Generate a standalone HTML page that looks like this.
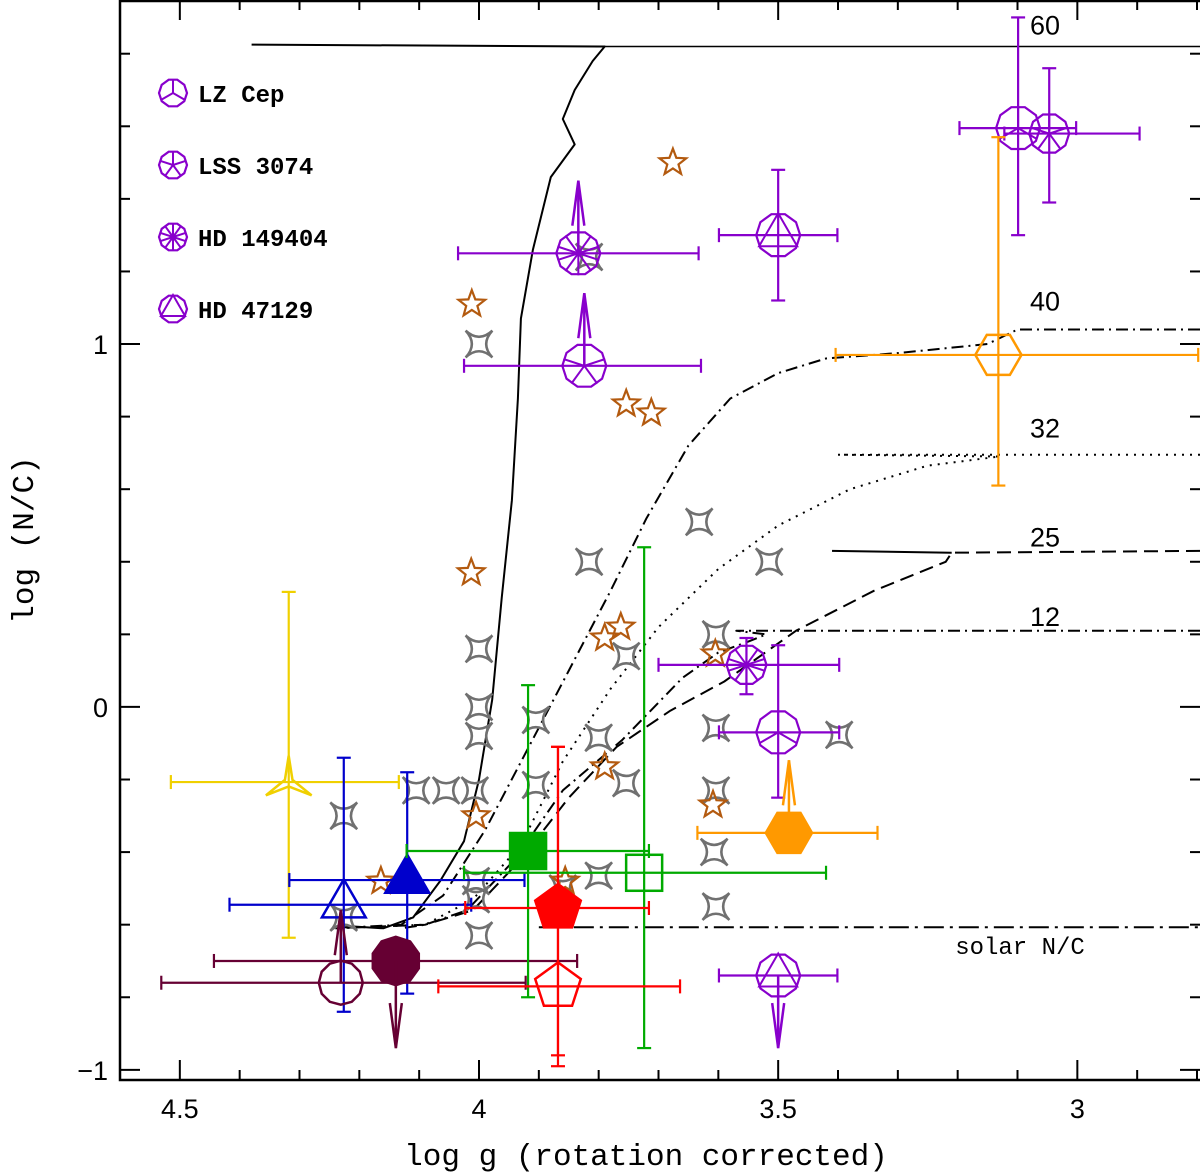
<!DOCTYPE html>
<html><head><meta charset="utf-8"><style>
html,body{margin:0;padding:0;background:#fff}
svg{display:block}
.tk{font-family:"Liberation Sans",sans-serif;font-size:27px}
.ser{font-family:"Liberation Mono",monospace}
</style></head><body>
<svg id="chart" width="1200" height="1176" viewBox="0 0 1200 1176" xmlns="http://www.w3.org/2000/svg">
<g id="plot"></g>
</svg>
<script>
// ---- data ----
const xDomain=[4.6,2.795];
const yDomain=[1.948,-1.028];
const xTicksMajor=[4.5,4,3.5,3];
const xTickLabels=["4.5","4","3.5","3"];
const yTicksMajor=[-1,0,1];
const yTickLabels=["\u22121","0","1"];
const grayX=[4.0,3.816,3.632,3.816,3.515,4.0,3.754,3.604,4.0,4.0,3.905,3.80,3.604,3.398,4.226,4.105,4.055,4.007,3.905,3.754,3.604,3.607,3.80,3.604,4.005,4.005,4.0,4.226,3.86];
const grayY=[1.0,1.24,0.51,0.40,0.40,0.16,0.14,0.20,0.0,-0.08,-0.036,-0.085,-0.058,-0.077,-0.30,-0.23,-0.23,-0.23,-0.215,-0.21,-0.23,-0.40,-0.465,-0.55,-0.48,-0.53,-0.63,-0.58,-0.50];
const brownX=[3.676,4.012,3.754,3.712,4.013,3.79,3.763,3.605,3.79,3.609,4.005,4.164,3.856];
const brownY=[1.50,1.11,0.835,0.81,0.37,0.19,0.22,0.146,-0.165,-0.27,-0.30,-0.48,-0.48];
const ptName=["lzcep-top","lss3074-top","hd47129-top","hd149404-limit","lss-limit","hd149404-mid","lzcep-mid","hd47129-bottom","yellow-tri","blue-open-tri","blue-filled-tri","maroon-open-circle","maroon-filled-oct","green-filled-sq","green-open-sq","red-filled-pent","red-open-pent","orange-filled-hex","orange-open-hex"];
const ptX=[3.099,3.047,3.5,3.834,3.824,3.553,3.5,3.5,4.318,4.226,4.12,4.231,4.139,3.918,3.724,3.868,3.868,3.482,3.132];
const ptY=[1.595,1.58,1.30,1.25,0.94,0.116,-0.07,-0.74,-0.207,-0.545,-0.477,-0.76,-0.70,-0.397,-0.457,-0.554,-0.77,-0.347,0.97];
const ptXlo=[3.197,3.122,3.599,4.035,4.025,3.700,3.599,3.599,4.515,4.417,4.317,4.531,4.443,4.121,4.025,4.023,4.068,3.635,3.404];
const ptXhi=[3.002,2.896,3.401,3.633,3.629,3.398,3.398,3.401,4.134,4.013,3.924,3.922,3.836,3.716,3.420,3.716,3.664,3.334,2.798];
const ptYlo=[1.30,1.39,1.12,null,null,0.035,-0.25,null,-0.636,-0.84,-0.79,null,null,-0.80,-0.94,-0.96,-0.99,null,0.61];
const ptYhi=[1.90,1.76,1.48,null,null,0.19,0.17,null,0.317,-0.14,-0.18,null,null,0.06,0.44,-0.11,-0.11,null,1.57];
const ptArrow=[0,0,0,1,1,0,0,-1,0,0,0,1,-1,0,0,0,0,1,0];
const ptArrowLen=[0,0,0,0.20,0.20,0,0,0.20,0,0,0,0.20,0.24,0,0,0,0,0.20,0];
const ptColor=["#8800cc","#8800cc","#8800cc","#8800cc","#8800cc","#8800cc","#8800cc","#8800cc","#f0d000","#0000cc","#0000cc","#660033","#660033","#00aa00","#00aa00","#ff0000","#ff0000","#ff9900","#ff9900"];
const ptShape=["lzcep","lss","hd47","hd149","lss","hd149","lzcep","hd47","tri3","tri","tri","circ","oct","sq","sq","pent","pent","hex","hex"];
const ptFill=[0,0,0,0,0,0,0,0,0,0,1,0,1,1,0,1,0,1,0];
const ptSize=[22,20,22,22,22,20,22,22,22,22,22,22,22,18,18,24,24,22,22];
const t60x=[4.38,3.8,3.79,3.81,3.84,3.86,3.84,3.88,3.91,3.93,3.935,3.945,3.962,3.978,4.0,4.025,4.065,4.11,4.16,4.21,4.24],
      t60y=[1.825,1.82,1.82,1.78,1.70,1.62,1.55,1.46,1.26,1.07,0.85,0.57,0.30,0.02,-0.20,-0.37,-0.48,-0.58,-0.61,-0.605,-0.61];
const t40x=[2.795,3.1,3.15,3.3,3.42,3.50,3.58,3.65,3.72,3.78,3.85,3.92,3.99,4.06,4.13,4.24],
      t40y=[1.04,1.04,1.0,0.975,0.96,0.92,0.85,0.72,0.52,0.32,0.10,-0.12,-0.34,-0.52,-0.6,-0.61];
const t32x=[2.795,3.4,3.13,3.25,3.38,3.50,3.60,3.70,3.78,3.86,3.93,4.01,4.09,4.24],
      t32y=[0.695,0.695,0.69,0.665,0.60,0.50,0.38,0.22,0.05,-0.15,-0.38,-0.53,-0.60,-0.61];
const t25x=[2.795,3.21,3.22,3.34,3.47,3.59,3.68,3.77,3.85,3.93,4.01,4.09,4.24],
      t25y=[0.43,0.425,0.40,0.32,0.21,0.07,-0.01,-0.11,-0.25,-0.42,-0.56,-0.60,-0.61];
const t12x=[2.795,3.57,3.52,3.55,3.6,3.66,3.76,3.86,3.94,4.02,4.09,4.13],
      t12y=[0.21,0.21,0.20,0.18,0.15,0.08,-0.09,-0.23,-0.42,-0.56,-0.6,-0.61];
const solarNC=-0.607;
const trackLabels=["60","40","32","25","12"];
const trackLabelY=[1.88,1.12,0.77,0.47,0.25];

// ---- helpers ----
const NS="http://www.w3.org/2000/svg";
const L=120,R=1200,T=0,B=1080;
function sx(v){return L+(v-xDomain[0])/(xDomain[1]-xDomain[0])*(R-L);}
function sy(v){return T+(v-yDomain[0])/(yDomain[1]-yDomain[0])*(B-T);}
const plot=document.getElementById('plot');
function mk(tag,at,parent){const e=document.createElementNS(NS,tag);for(const k in at)e.setAttribute(k,at[k]);(parent||plot).appendChild(e);return e;}
function poly(cx,cy,r,n,rot){let p=[];for(let i=0;i<n;i++){const a=rot+i*2*Math.PI/n;p.push((cx+r*Math.cos(a)).toFixed(1)+","+(cy+r*Math.sin(a)).toFixed(1));}return p.join(" ");}
function star4(cx,cy,r){let d="";for(let i=0;i<4;i++){const a=-Math.PI/4+i*Math.PI/2,b=a+Math.PI/2,m=a+Math.PI/4;
  const px=cx+r*Math.cos(a),py=cy+r*Math.sin(a),qx=cx+r*Math.cos(b),qy=cy+r*Math.sin(b),kx=cx+r*0.05*Math.cos(m),ky=cy+r*0.05*Math.sin(m);
  d+=(i?"":"M"+px.toFixed(1)+","+py.toFixed(1))+" Q"+kx.toFixed(1)+","+ky.toFixed(1)+" "+qx.toFixed(1)+","+qy.toFixed(1);}return d+"Z";}
function star5(cx,cy,r){let p=[];for(let i=0;i<10;i++){const a=-Math.PI/2+i*Math.PI/5;const rr=i%2?r*0.42:r;p.push((cx+rr*Math.cos(a)).toFixed(1)+","+(cy+rr*Math.sin(a)).toFixed(1));}return p.join(" ");}
function spokes(g,cx,cy,r,n,rot,col){for(let i=0;i<n;i++){const a=rot+i*2*Math.PI/n;mk('line',{x1:cx,y1:cy,x2:cx+r*Math.cos(a),y2:cy+r*Math.sin(a),stroke:col,'stroke-width':2},g);}}
function symbol(g,shape,cx,cy,r,col,fill){
  const f=fill?col:'none';
  if(shape==='lzcep'){mk('polygon',{points:poly(cx,cy,r,10,0),fill:'none',stroke:col,'stroke-width':2.2},g);spokes(g,cx,cy,r,3,-Math.PI/2,col);}
  else if(shape==='lss'){mk('polygon',{points:poly(cx,cy,r,10,0),fill:'none',stroke:col,'stroke-width':2.2},g);spokes(g,cx,cy,r,5,-Math.PI/2,col);}
  else if(shape==='hd149'){mk('polygon',{points:poly(cx,cy,r,10,0),fill:'none',stroke:col,'stroke-width':2.2},g);spokes(g,cx,cy,r,10,-Math.PI/2,col);}
  else if(shape==='hd47'){mk('polygon',{points:poly(cx,cy,r,10,0),fill:'none',stroke:col,'stroke-width':2.2},g);mk('polygon',{points:poly(cx,cy,r,3,-Math.PI/2),fill:'none',stroke:col,'stroke-width':2},g);}
  else if(shape==='tri3'){let p=[];for(let i=0;i<6;i++){const a=-Math.PI/2+i*Math.PI/3;const rr=i%2?r*0.2:r*1.2;p.push((cx+rr*Math.cos(a)).toFixed(1)+","+(cy+rr*Math.sin(a)).toFixed(1));}mk('polygon',{points:p.join(" "),fill:'none',stroke:col,'stroke-width':2.5},g);}
  else if(shape==='tri'){mk('polygon',{points:poly(cx,cy,r*1.15,3,-Math.PI/2),fill:f,stroke:col,'stroke-width':2.5},g);}
  else if(shape==='circ'){mk('polygon',{points:poly(cx,cy,r,12,0),fill:f,stroke:col,'stroke-width':2.5},g);}
  else if(shape==='oct'){mk('polygon',{points:poly(cx,cy,r*1.1,10,Math.PI/10),fill:f,stroke:col,'stroke-width':2.5},g);}
  else if(shape==='sq'){mk('rect',{x:cx-r,y:cy-r,width:2*r,height:2*r,fill:f,stroke:col,'stroke-width':2.5},g);}
  else if(shape==='pent'){mk('polygon',{points:poly(cx,cy,r,5,-Math.PI/2),fill:f,stroke:col,'stroke-width':2.5},g);}
  else if(shape==='hex'){mk('polygon',{points:poly(cx,cy,r*1.05,6,0),fill:f,stroke:col,'stroke-width':2.5},g);}
}

// ---- tracks ----
function track(xs,ys,dash,name){
  const pts=xs.map((v,i)=>sx(v).toFixed(1)+","+sy(ys[i]).toFixed(1)).join(" ");
  const el=mk('polyline',{points:pts,fill:'none',stroke:'#000','stroke-width':2,'stroke-dasharray':dash,'stroke-linejoin':'round'});
  
  
}
track(t60x,t60y,'none','track-60');
const top60=mk('line',{x1:sx(3.8),y1:sy(1.82),x2:R,y2:sy(1.82),stroke:'#000','stroke-width':1.5});


track(t40x,t40y,'12,5,2,5','track-40');
track(t32x,t32y,'2,6','track-32');
const s25=mk('line',{x1:sx(3.41),y1:sy(0.43),x2:sx(3.21),y2:sy(0.425),stroke:'#000','stroke-width':2});


track(t25x,t25y,'14,7','track-25');
track(t12x,t12y,'12,5,2,5','track-12');
const sol=mk('line',{x1:sx(3.9),y1:sy(solarNC),x2:R,y2:sy(solarNC),stroke:'#000','stroke-width':2,'stroke-dasharray':'20,6,3,6'});


const solT=mk('text',{x:1020,y:954,'text-anchor':'middle','font-size':24,class:'ser'});solT.textContent='solar N/C';


trackLabels.forEach((t,i)=>{const e=mk('text',{x:1045,y:sy(trackLabelY[i])+10,'text-anchor':'middle',class:'tk'});e.textContent=t;

});

// ---- comparison stars ----
grayX.forEach((v,i)=>{const e=mk('path',{d:star4(sx(v),sy(grayY[i]),19),fill:'none',stroke:'#707070','stroke-width':2.5});

});
brownX.forEach((v,i)=>{const e=mk('polygon',{points:star5(sx(v),sy(brownY[i]),14),fill:'none',stroke:'#b35a0f','stroke-width':2.2});

});

// ---- data points ----
ptX.forEach((v,i)=>{
  const g=mk('g',{});
  
  
  const cx=sx(v),cy=sy(ptY[i]),c=ptColor[i];
  const x1=sx(ptXlo[i]),x2=sx(ptXhi[i]);
  mk('line',{x1:x1,y1:cy,x2:x2,y2:cy,stroke:c,'stroke-width':2.2},g);
  mk('line',{x1:x1,y1:cy-7,x2:x1,y2:cy+7,stroke:c,'stroke-width':2.2},g);
  mk('line',{x1:x2,y1:cy-7,x2:x2,y2:cy+7,stroke:c,'stroke-width':2.2},g);
  if(ptYlo[i]!==null){const y1=sy(ptYlo[i]),y2=sy(ptYhi[i]);
    mk('line',{x1:cx,y1:y1,x2:cx,y2:y2,stroke:c,'stroke-width':2.2},g);
    mk('line',{x1:cx-7,y1:y1,x2:cx+7,y2:y1,stroke:c,'stroke-width':2.2},g);
    mk('line',{x1:cx-7,y1:y2,x2:cx+7,y2:y2,stroke:c,'stroke-width':2.2},g);}
  symbol(g,ptShape[i],cx,cy,ptSize[i],c,ptFill[i]);
  if(ptArrow[i]){const ye=sy(ptY[i]+ptArrow[i]*ptArrowLen[i]);const d=ptArrow[i]>0?1:-1;
    mk('line',{x1:cx,y1:cy,x2:cx,y2:ye,stroke:c,'stroke-width':2.5},g);
    mk('polyline',{points:`${cx-6},${ye+d*45} ${cx},${ye} ${cx+6},${ye+d*45}`,fill:'none',stroke:c,'stroke-width':2.5},g);}
});

// ---- legend ----
const legNames=["LZ Cep","LSS 3074","HD 149404","HD 47129"],legShapes=["lzcep","lss","hd149","hd47"];
legNames.forEach((n,i)=>{const g=mk('g',{});


const y=93+i*72;symbol(g,legShapes[i],173,y,14,'#8800cc',0);
const t=mk('text',{x:198,y:y+9,'font-size':24,'font-weight':'bold',class:'ser'},g);t.textContent=n;});

// ---- axes ----
const ax=mk('g',{});


mk('rect',{x:L,y:T+1,width:R-L+2,height:B-T-1,fill:'none',stroke:'#000','stroke-width':2.5},ax);
for(let k=28;k<=46;k++){const v=k/10;const X=sx(v);if(X<L||X>R)continue;const maj=Math.abs(v*2-Math.round(v*2))<1e-6;const len=maj?20:10;
  mk('line',{x1:X,y1:B,x2:X,y2:B-len,stroke:'#000','stroke-width':2},ax);mk('line',{x1:X,y1:T,x2:X,y2:T+len,stroke:'#000','stroke-width':2},ax);}
for(let k=-5;k<=9;k++){const v=k/5;const Y=sy(v);if(Y<T||Y>B)continue;const maj=k%5===0;const len=maj?20:10;
  mk('line',{x1:L,y1:Y,x2:L+len,y2:Y,stroke:'#000','stroke-width':2},ax);mk('line',{x1:R,y1:Y,x2:R-len,y2:Y,stroke:'#000','stroke-width':2},ax);}
xTicksMajor.forEach((v,i)=>{const t=mk('text',{x:sx(v),y:1118,'text-anchor':'middle',class:'tk'},ax);t.textContent=xTickLabels[i];

});
yTicksMajor.forEach((v,i)=>{const t=mk('text',{x:108,y:sy(v)+10,'text-anchor':'end',class:'tk'},ax);t.textContent=yTickLabels[i];

});
const xt=mk('text',{x:646,y:1165,'text-anchor':'middle','font-size':31,class:'ser'},ax);xt.textContent='log g (rotation corrected)';


const yt=mk('text',{x:0,y:0,'text-anchor':'middle','font-size':31,class:'ser',transform:'translate(33,540) rotate(-90)'},ax);yt.textContent='log (N/C)';


</script>
</body></html>
